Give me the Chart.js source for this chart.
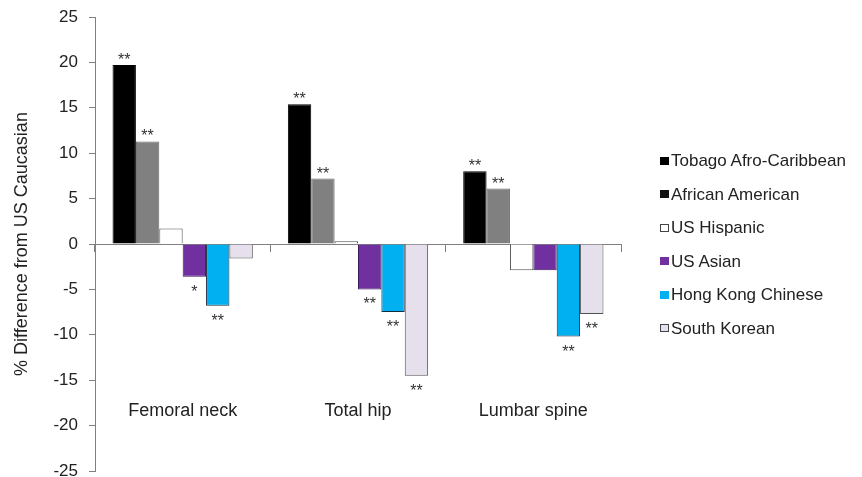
<!DOCTYPE html>
<html>
<head>
<meta charset="utf-8">
<title>% Difference from US Caucasian</title>
<script src="https://cdn.jsdelivr.net/npm/chart.js@4.4.1/dist/chart.umd.min.js"></script>
<style>
  html, body { margin: 0; padding: 0; background: #fff; overflow: hidden; }
  #wrap { position: relative; width: 862px; height: 477px; overflow: hidden; }
  #legend { position: absolute; left: 660px; top: 144px; margin: 0; padding: 0; list-style: none;
            font: 17px "Liberation Sans", Arial, sans-serif; color: #222; white-space: nowrap; }
  #legend li { height: 33.5px; line-height: 33.5px; display: flex; align-items: center; }
  #legend .sw { display: inline-block; width: 9px; height: 8px; box-sizing: border-box; margin-right: 2px; }
</style>
</head>
<body>
<div id="wrap">
  <canvas id="chart"></canvas>
  <ul id="legend"></ul>
</div>
<script>
// categories and series
const sites = ['Femoral neck', 'Total hip', 'Lumbar spine'];
const groups = ['Tobago Afro-Caribbean', 'African American', 'US Hispanic', 'US Asian', 'Hong Kong Chinese', 'South Korean'];

const tobago = [19.7, 15.4, 8.0];
const africanAmerican = [11.3, 7.2, 6.1];
const usHispanic = [1.7, 0.3, -2.9];
const usAsian = [-3.6, -5.0, -2.9];
const hongKong = [-6.8, -7.5, -10.2];
const southKorean = [-1.6, -14.5, -7.7];

// significance marks per bar
const tobagoSig = ['**', '**', '**'];
const africanAmericanSig = ['**', '**', '**'];
const usHispanicSig = ['', '', ''];
const usAsianSig = ['*', '**', ''];
const hongKongSig = ['**', '**', '**'];
const southKoreanSig = ['', '**', '**'];

const yTicks = [-25, -20, -15, -10, -5, 0, 5, 10, 15, 20, 25];

Chart.defaults.font.family = '"Liberation Sans", Arial, sans-serif';
Chart.defaults.color = '#222';

const series = [tobago, africanAmerican, usHispanic, usAsian, hongKong, southKorean];
const marks = [tobagoSig, africanAmericanSig, usHispanicSig, usAsianSig, hongKongSig, southKoreanSig];
const fills = ['#000000', '#808080', '#ffffff', '#7030a0', '#00b0f0', '#e6e0ec'];
const edges = ['#000000', '#6a6a6a', '#505050', '#3a1a5a', '#1a2a40', '#505050'];
const swatches = ['#000000', '#111111', '#ffffff', '#7030a0', '#00b0f0', '#e6e0ec'];

// draws the ** above / below each bar end
const starsPlugin = {
  id: 'stars',
  afterDatasetsDraw(chart) {
    const ctx = chart.ctx;
    ctx.save();
    ctx.font = '16px "Liberation Sans", Arial, sans-serif';
    ctx.fillStyle = '#333';
    ctx.textAlign = 'center';
    ctx.textBaseline = 'alphabetic';
    chart.data.datasets.forEach((ds, i) => {
      const meta = chart.getDatasetMeta(i);
      meta.data.forEach((bar, j) => {
        const s = ds.stars[j];
        if (!s) return;
        const y = ds.data[j] >= 0 ? bar.y : bar.y + 20;
        ctx.fillText(s, bar.x, y);
      });
    });
    ctx.restore();
  }
};

const chart = new Chart(document.getElementById('chart'), {
  type: 'bar',
  data: {
    labels: sites,
    datasets: groups.map((g, i) => ({
      label: g,
      data: series[i],
      stars: marks[i],
      backgroundColor: fills[i],
      borderColor: edges[i],
      borderWidth: 1,
      categoryPercentage: 0.8,
      barPercentage: 1.0
    }))
  },
  options: {
    responsive: true,
    maintainAspectRatio: false,
    animation: false,
    layout: { padding: { left: 0, top: 17, right: 241, bottom: 6 } },
    plugins: {
      legend: { display: false },
      tooltip: { enabled: false }
    },
    scales: {
      x: {
        type: 'category',
        position: { y: 0 },
        offset: true,
        afterFit: scale => { scale.paddingLeft = 0; scale.paddingRight = 0; },
        grid: { drawOnChartArea: false, drawTicks: true, tickLength: 7, color: '#808080', offset: true },
        border: { color: '#808080', width: 1 },
        ticks: { padding: 149, font: { size: 18 }, color: '#222', maxRotation: 0, autoSkip: false }
      },
      y: {
        min: -25,
        max: 25,
        afterBuildTicks: scale => { scale.ticks = yTicks.map(v => ({ value: v })); },
        afterFit: scale => { scale.width = 95; scale.paddingTop = 0; scale.paddingBottom = 0; },
        grid: { drawOnChartArea: false, drawTicks: true, tickLength: 6, color: '#808080' },
        border: { color: '#808080', width: 1 },
        ticks: { padding: 11, font: { size: 17 }, color: '#222' },
        title: {
          display: true,
          text: '% Difference from US Caucasian',
          font: { size: 18 },
          color: '#222',
          padding: { top: 11, bottom: 0 }
        }
      }
    }
  },
  plugins: [starsPlugin]
});

// html legend built from the chart's datasets
const ul = document.getElementById('legend');
chart.data.datasets.forEach((ds, i) => {
  const li = document.createElement('li');
  const sw = document.createElement('span');
  sw.className = 'sw';
  sw.style.background = swatches[i];
  sw.style.border = '1px solid ' + (i === 2 || i === 5 ? '#444' : swatches[i]);
  li.appendChild(sw);
  li.appendChild(document.createTextNode(ds.label));
  ul.appendChild(li);
});
</script>
</body>
</html>
